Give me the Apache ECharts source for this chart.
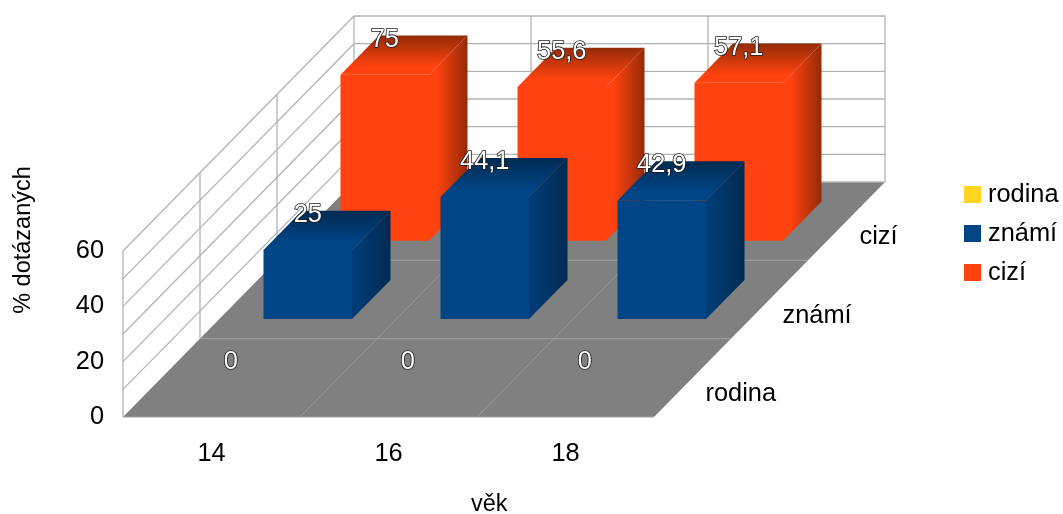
<!DOCTYPE html>
<html><head><meta charset="utf-8">
<style>html,body{margin:0;padding:0;background:#fff}#c{width:1063px;height:514px}</style>
<script src="https://cdn.jsdelivr.net/npm/echarts@6/dist/echarts.min.js"></script>
</head><body><div id="c"></div>
<script>
const ages = ['14', '16', '18'];
const rows = ['rodina', 'známí', 'cizí'];
const rodina = [0, 0, 0];
const znami = [25, 44.1, 42.9];
const cizi = [75, 55.6, 57.1];
const wallTicks = [0, 10, 20, 30, 40, 50, 60];
const yMax = 60;
const colors = {
  rodina: ['#ffd320', '#ffd320', '#a08414'],
  znami: ['#004586', '#003b73', '#002a52'],
  cizi: ['#ff420e', '#ff420e', '#932b08']
};
const rowStep = [77, -78.33];
const FONT = '25.4px "Liberation Sans", Arial, sans-serif';
const TITLE_FONT = '23.5px "Liberation Sans", Arial, sans-serif';
const GRID = '#b3b3b3';
const FLOOR_GRID = '#a0a0a0';

const chart = echarts.init(document.getElementById('c'), null, {renderer: 'canvas'});

function shift(p, d) { return [p[0] + rowStep[0] * d, p[1] + rowStep[1] * d]; }

function renderFrame(params, api) {
  const band = api.size([1, 0])[0];
  const o = api.coord([0, 0]); o[0] -= band / 2;
  const n = ages.length, m = rows.length;
  const fr = [o[0] + band * n, o[1]];
  const kids = [];
  const line = (a, b, c) => kids.push({type: 'line', shape: {x1: a[0], y1: a[1], x2: b[0], y2: b[1]},
    style: {stroke: c || GRID, lineWidth: c ? 1 : 1.3}});
  kids.push({type: 'polygon', shape: {points: [o, fr, shift(fr, m), shift(o, m)]}, style: {fill: '#808080'}});
  wallTicks.forEach(t => {
    const h = api.coord([0, t])[1] - o[1];
    const a = [o[0], o[1] + h];
    if (t > 0) line(a, shift(a, m));
    const b = shift(a, m);
    line(b, [b[0] + band * n, b[1]]);
  });
  const top = api.coord([0, yMax])[1] - o[1];
  for (let d = 0; d <= m; d++) {
    const a = shift(o, d);
    line(a, [a[0], a[1] + top]);
    if (d > 0 && d < m) line(a, [a[0] + band * n, a[1]], FLOOR_GRID);
  }
  for (let c = 1; c <= n; c++) {
    const a = [o[0] + band * c, o[1]];
    const b = shift(a, m);
    if (c < n) line(a, b, FLOOR_GRID);
    line(b, [b[0], b[1] + top]);
  }
  line(o, fr, FLOOR_GRID);
  rows.forEach((r, i) => {
    const p = shift(fr, i + 0.5);
    kids.push({type: 'text', style: {text: r, x: p[0] + 13, y: p[1] + 16, font: FONT, fill: '#000',
      textAlign: 'left', textVerticalAlign: 'middle'}});
  });
  return {type: 'group', children: kids};
}

function barRenderer(rowIndex, cols) {
  return function (params, api) {
    const i = api.value(0), v = api.value(1);
    const band = api.size([1, 0])[0];
    const base = shift(api.coord([i, 0]), rowIndex + 0.25);
    const h = base[1] - shift(api.coord([i, Math.min(v, yMax)]), rowIndex + 0.25)[1];
    const x0 = base[0] - band / 4, x1 = base[0] + band / 4;
    const yb = base[1], yt = yb - h;
    const dx = rowStep[0] * 0.5, dy = rowStep[1] * 0.5;
    const stops = c => [{offset: 0, color: c}, {offset: 0.2, color: c}, {offset: 1, color: cols[2]}];
    const kids = [];
    if (v > 0) {
      kids.push({type: 'polygon', shape: {points: [[x0, yb], [x1, yb], [x1, yt], [x0, yt]]}, style: {fill: cols[0]}});
      kids.push({type: 'polygon', shape: {points: [[x1, yb], [x1 + dx, yb + dy], [x1 + dx, yt + dy], [x1, yt]]},
        style: {fill: new echarts.graphic.LinearGradient(0, 0, 1, 0, stops(cols[1]))}});
      kids.push({type: 'polygon', shape: {points: [[x0, yt], [x1, yt], [x1 + dx, yt + dy], [x0 + dx, yt + dy]]},
        style: {fill: new echarts.graphic.LinearGradient(0, 1, 0, 0, stops(cols[0]))}});
    }
    kids.push({type: 'text', style: {text: String(v).replace('.', ','), x: base[0], y: yt - 35, font: FONT,
      fill: '#ffffff', stroke: '#1a1a1a', lineWidth: 1.6, textAlign: 'center', textVerticalAlign: 'middle'}});
    return {type: 'group', children: kids};
  };
}

const toData = arr => arr.map((v, i) => [i, v]);
const barSeries = (name, arr, rowIndex, cols) => ({
  name, type: 'custom', renderItem: barRenderer(rowIndex, cols), data: toData(arr),
  encode: {x: 0, y: 1}, itemStyle: {color: cols[0]}, clip: false, silent: true
});

chart.setOption({
  animation: false,
  backgroundColor: '#fff',
  grid: {left: 123, top: 251, width: 531, height: 166},
  xAxis: {type: 'category', data: ages, axisLine: {show: false}, axisTick: {show: false}, splitLine: {show: false},
    axisLabel: {color: '#000', fontSize: 25.4, fontFamily: 'Liberation Sans', margin: 24}},
  yAxis: {type: 'value', min: 0, max: yMax, interval: 20, axisLine: {show: false}, axisTick: {show: false},
    splitLine: {show: false}, axisLabel: {color: '#000', fontSize: 25.4, fontFamily: 'Liberation Sans', margin: 19, padding: [2, 0, 0, 0]}},
  legend: {orient: 'vertical', left: 959, top: 177, icon: 'rect', itemWidth: 17, itemHeight: 17, itemGap: 14,
    selectedMode: false, data: ['rodina', 'známí', 'cizí'],
    textStyle: {color: '#000', fontSize: 25.4, fontFamily: 'Liberation Sans', padding: [0, 0, 0, 2]}},
  graphic: [
    {type: 'text', left: 471, top: 493, style: {text: 'věk', font: TITLE_FONT, fill: '#000'}},
    {type: 'text', x: 24, y: 240, rotation: Math.PI / 2, style: {text: '% dotázaných', font: TITLE_FONT, fill: '#000',
      textAlign: 'center', textVerticalAlign: 'middle'}}
  ],
  series: [
    {type: 'custom', name: 'frame', renderItem: renderFrame, data: [[0, 0]], encode: {x: 0, y: 1}, clip: false, silent: true},
    barSeries('cizí', cizi, 2, colors.cizi),
    barSeries('známí', znami, 1, colors.znami),
    barSeries('rodina', rodina, 0, colors.rodina)
  ]
});
</script></body></html>
